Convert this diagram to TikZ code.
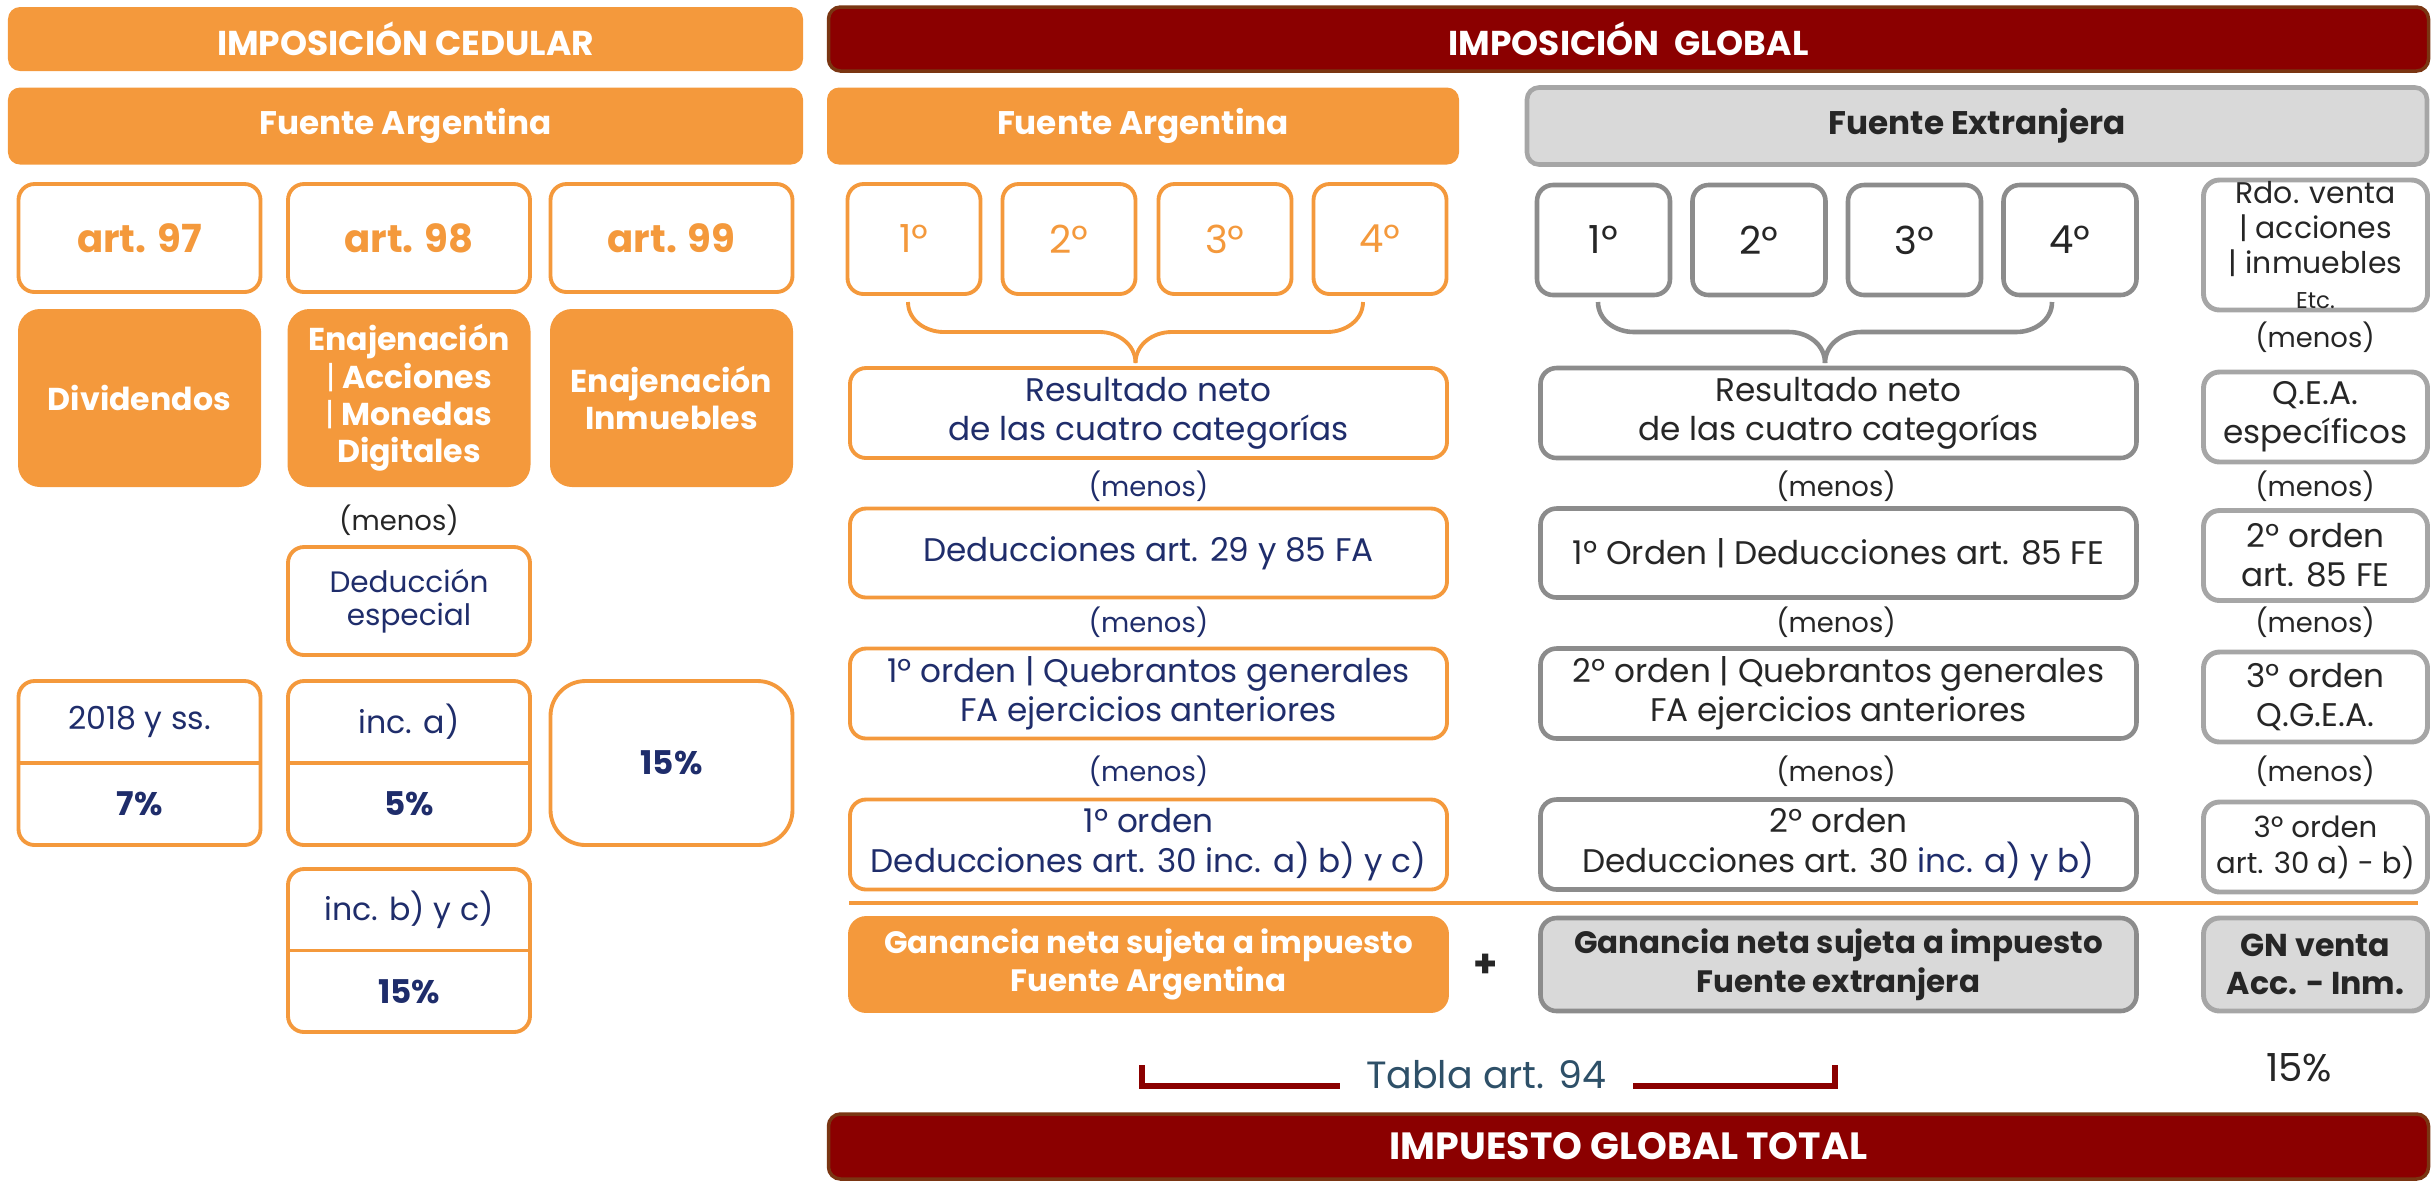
\documentclass[tikz,border=0pt]{standalone}
\usepackage{fontspec}
\setmainfont{Poppins}
\usepackage{tikz}
\usetikzlibrary{calc,positioning}
\definecolor{naranja}{HTML}{F4993C}
\definecolor{rojo}{HTML}{8B0000}
\definecolor{rojoborde}{HTML}{7A3512}
\definecolor{azul}{HTML}{1F2D6B}
\definecolor{grisfondo}{HTML}{D9D9D9}
\definecolor{grisborde}{HTML}{8C8C8C}
\definecolor{grisclaro}{HTML}{A6A6A6}
\definecolor{negro}{HTML}{262626}
\definecolor{pizarra}{HTML}{2E5068}
\newcommand{\fs}[2]{\fontsize{#1}{#2}\selectfont}
\tikzset{%
	barra/.style   = {rounded corners=0.12cm, minimum height=0.64cm, text=white, font=\fs{9.8}{11}\bfseries, inner sep=0pt},
	fuente/.style  = {rounded corners=0.12cm, minimum height=0.77cm, font=\fs{9.3}{11}\bfseries, inner sep=0pt},
	artbox/.style  = {draw=naranja, line width=1.1pt, fill=white, rounded corners=0.16cm, minimum width=2.42cm, minimum height=1.08cm, text=naranja, font=\fs{11}{13}\bfseries},
	catbox/.style  = {fill=naranja, rounded corners=0.22cm, minimum width=2.43cm, minimum height=1.78cm, text=white, font=\fs{9}{10.6}\bfseries, align=center},
	obox/.style    = {draw=naranja, line width=1.1pt, fill=white, rounded corners=0.16cm, align=center, text=azul, font=\fs{9.3}{11.2}, inner sep=0pt},
	gbox/.style    = {draw=grisborde, line width=1.3pt, fill=white, rounded corners=0.16cm, align=center, text=negro, font=\fs{9.3}{11.2}, inner sep=0pt},
	rbox/.style    = {draw=grisclaro, line width=1.4pt, fill=white, rounded corners=0.16cm, align=center, text=negro, font=\fs{9.3}{11.2}, minimum width=2.24cm, inner sep=0pt},
	menos/.style   = {font=\fs{7.8}{9}, text=negro},
	llave/.style   = {line width=1.1pt},
}
\begin{document}
\begin{tikzpicture}
	\useasboundingbox (0,0) rectangle (24.33,-11.82);
	% imposicion cedular
	\node[barra, fill=naranja, minimum width=7.95cm] (ced) at (4.055,-0.39) {IMPOSICIÓN CEDULAR};
	\node[fuente, fill=naranja, text=white, minimum width=7.95cm] (faL) at (4.055,-1.26) {Fuente Argentina};
	\node[artbox] (a97) at (1.395,-2.38) {art. 97};
	\node[artbox] (a98) at (4.09,-2.38) {art. 98};
	\node[artbox] (a99) at (6.715,-2.38) {art. 99};
	\node[catbox] (div) at (1.395,-3.98) {Dividendos};
	\node[catbox] (ena) at (4.09,-3.98) {Enajenación\\{\mdseries|} Acciones\\{\mdseries|} Monedas\\Digitales};
	\node[catbox] (inm) at (6.715,-3.98) {Enajenación\\Inmuebles};
	\node[menos] (m0) at (3.99,-5.20) {(menos)};
	\node[obox, minimum width=2.42cm, minimum height=1.08cm, font=\fs{8.4}{9.4}] (desp) at (4.09,-6.01) {Deducción\\especial};
	\node[obox, minimum width=2.42cm, minimum height=1.64cm] (t97) at (1.395,-7.63) {};
	\draw[naranja, line width=1.1pt] (t97.west) -- (t97.east);
	\node[text=azul, font=\fs{9}{11}] (t97a) at ($(t97.center)+(0,0.41)$) {2018 y ss.};
	\node[text=azul, font=\fs{9.3}{11}\bfseries] (t97b) at ($(t97.center)+(0,-0.41)$) {7\%};
	\node[obox, minimum width=2.42cm, minimum height=1.64cm] (t98) at (4.09,-7.63) {};
	\draw[naranja, line width=1.1pt] (t98.west) -- (t98.east);
	\node[text=azul, font=\fs{9}{11}] (t98a) at ($(t98.center)+(0,0.41)$) {inc. a)};
	\node[text=azul, font=\fs{9.3}{11}\bfseries] (t98b) at ($(t98.center)+(0,-0.41)$) {5\%};
	\node[obox, rounded corners=0.35cm, minimum width=2.42cm, minimum height=1.64cm, font=\fs{9.3}{11}\bfseries] (t99) at (6.715,-7.63) {15\%};
	\node[obox, minimum width=2.42cm, minimum height=1.63cm] (t98c) at (4.09,-9.505) {};
	\draw[naranja, line width=1.1pt] (t98c.west) -- (t98c.east);
	\node[text=azul, font=\fs{9}{11}] (t98ca) at ($(t98c.center)+(0,0.41)$) {inc. b) y c)};
	\node[text=azul, font=\fs{9.3}{11}\bfseries] (t98cb) at ($(t98c.center)+(0,-0.41)$) {15\%};
	% imposicion global
	\node[barra, fill=rojo, draw=rojoborde, line width=1pt, minimum width=16.0cm] (glob) at (16.285,-0.39) {IMPOSICIÓN\ \ GLOBAL};
	\node[fuente, fill=naranja, text=white, minimum width=6.32cm] (faR) at (11.43,-1.26) {Fuente Argentina};
	\node[fuente, fill=grisfondo, draw=grisclaro, line width=1.3pt, text=negro, minimum width=9.0cm] (fe) at (19.77,-1.26) {Fuente Extranjera};
	\node[obox, minimum width=1.33cm, minimum height=1.10cm, text=naranja, font=\fs{11}{13}] (o1) at (9.14,-2.39) {1º};
	\node[obox, minimum width=1.33cm, minimum height=1.10cm, text=naranja, font=\fs{11}{13}] (o2) at (10.69,-2.39) {2º};
	\node[obox, minimum width=1.33cm, minimum height=1.10cm, text=naranja, font=\fs{11}{13}] (o3) at (12.25,-2.39) {3º};
	\node[obox, minimum width=1.33cm, minimum height=1.10cm, text=naranja, font=\fs{11}{13}] (o4) at (13.80,-2.39) {4º};
	\node[gbox, minimum width=1.33cm, minimum height=1.10cm, font=\fs{11}{13}] (g1) at (16.035,-2.40) {1º};
	\node[gbox, minimum width=1.33cm, minimum height=1.10cm, font=\fs{11}{13}] (g2) at (17.59,-2.40) {2º};
	\node[gbox, minimum width=1.33cm, minimum height=1.10cm, font=\fs{11}{13}] (g3) at (19.145,-2.40) {3º};
	\node[gbox, minimum width=1.33cm, minimum height=1.10cm, font=\fs{11}{13}] (g4) at (20.70,-2.40) {4º};
	\node[rbox, minimum height=1.30cm, font=\fs{8.5}{10}] (rdo) at (23.155,-2.45) {Rdo. venta\\| acciones\\| inmuebles\\{\fs{6.5}{7}Etc.}};
	\node[menos] (mr0) at (23.15,-3.37) {(menos)};
	% llaves
	\coordinate (bo1) at (9.08,-3.02);
	\coordinate (bo2) at (13.63,-3.02);
	\coordinate (bot) at (11.355,-3.63);
	\draw[llave, naranja] (bo1) to[out=-90,in=180] ++(0.36,-0.30) -- ($(bot)+(-0.36,0.31)$) to[out=0,in=90] (bot);
	\draw[llave, naranja] (bo2) to[out=-90,in=0] ++(-0.36,-0.30) -- ($(bot)+(0.36,0.31)$) to[out=180,in=90] (bot);
	\coordinate (bg1) at (15.98,-3.02);
	\coordinate (bg2) at (20.52,-3.02);
	\coordinate (bgt) at (18.25,-3.63);
	\draw[llave, grisborde, line width=1.3pt] (bg1) to[out=-90,in=180] ++(0.36,-0.30) -- ($(bgt)+(-0.36,0.31)$) to[out=0,in=90] (bgt);
	\draw[llave, grisborde, line width=1.3pt] (bg2) to[out=-90,in=0] ++(-0.36,-0.30) -- ($(bgt)+(0.36,0.31)$) to[out=180,in=90] (bgt);
	% filas
	\node[obox, minimum width=5.97cm, minimum height=0.90cm] (resA) at (11.485,-4.13) {Resultado neto\\de las cuatro categorías};
	\node[gbox, minimum width=5.96cm, minimum height=0.90cm] (resE) at (18.385,-4.13) {Resultado neto\\de las cuatro categorías};
	\node[rbox, minimum height=0.90cm] (qea) at (23.155,-4.17) {Q.E.A.\\específicos};
	\node[menos, text=azul] (ma1) at (11.485,-4.86) {(menos)};
	\node[menos] (me1) at (18.36,-4.86) {(menos)};
	\node[menos] (mr1) at (23.15,-4.86) {(menos)};
	\node[obox, minimum width=5.97cm, minimum height=0.89cm] (dedA) at (11.485,-5.53) {Deducciones art. 29 y 85 FA};
	\node[gbox, minimum width=5.96cm, minimum height=0.89cm] (dedE) at (18.385,-5.53) {1º Orden | Deducciones art. 85 FE};
	\node[rbox, minimum height=0.90cm] (r85) at (23.155,-5.555) {2º orden\\art. 85 FE};
	\node[menos, text=azul] (ma2) at (11.485,-6.22) {(menos)};
	\node[menos] (me2) at (18.36,-6.22) {(menos)};
	\node[menos] (mr2) at (23.15,-6.22) {(menos)};
	\node[obox, minimum width=5.97cm, minimum height=0.90cm] (queA) at (11.485,-6.935) {1º orden | Quebrantos generales\\FA ejercicios anteriores};
	\node[gbox, minimum width=5.96cm, minimum height=0.90cm] (queE) at (18.385,-6.935) {2º orden | Quebrantos generales\\FA ejercicios anteriores};
	\node[rbox, minimum height=0.90cm] (qgea) at (23.155,-6.97) {3º orden\\Q.G.E.A.};
	\node[menos, text=azul] (ma3) at (11.485,-7.71) {(menos)};
	\node[menos] (me3) at (18.36,-7.71) {(menos)};
	\node[menos] (mr3) at (23.15,-7.71) {(menos)};
	\node[obox, minimum width=5.97cm, minimum height=0.90cm] (d30A) at (11.485,-8.445) {1º orden\\Deducciones art. 30 inc. a) b) y c)};
	\node[gbox, minimum width=5.96cm, minimum height=0.90cm] (d30E) at (18.385,-8.445) {2º orden\\Deducciones art. 30 {\color{azul}inc. a) y b)}};
	\node[rbox, minimum height=0.90cm, font=\fs{8.3}{10.2}] (r30) at (23.155,-8.47) {3º orden\\art. 30 a) - b)};
	\coordinate (s1) at (8.49,-9.03);
	\coordinate (s2) at (24.18,-9.03);
	\draw[naranja, line width=1.2pt] (s1) -- (s2);
	% ganancia neta
	\node[obox, fill=naranja, text=white, minimum width=5.97cm, minimum height=0.93cm, font=\fs{8.8}{11}\bfseries] (gnA) at (11.485,-9.645) {Ganancia neta sujeta a impuesto\\Fuente Argentina};
	\node[font=\fs{11}{13}\bfseries, text=negro] (mas) at (14.86,-9.66) {+};
	\node[gbox, fill=grisfondo, minimum width=5.96cm, minimum height=0.93cm, font=\fs{8.8}{11}\bfseries] (gnE) at (18.385,-9.645) {Ganancia neta sujeta a impuesto\\Fuente extranjera};
	\node[rbox, fill=grisfondo, minimum height=0.93cm, font=\fs{9}{11}\bfseries] (gnv) at (23.155,-9.645) {GN venta\\Acc. - Inm.};
	\node[text=pizarra, font=\fs{10.8}{13}] (tabla) at (14.86,-10.75) {Tabla art. 94};
	\coordinate (tl1) at (11.42,-10.65);
	\coordinate (tl2) at (13.40,-10.86);
	\coordinate (tr1) at (16.33,-10.86);
	\coordinate (tr2) at (18.35,-10.65);
	\draw[rojo, line width=1.9pt] (tl1) |- (tl2);
	\draw[rojo, line width=1.9pt] (tr1) -| (tr2);
	\node[text=negro, font=\fs{11}{13}] (tasa) at (22.99,-10.68) {15\%};
	\node[barra, fill=rojo, draw=rojoborde, line width=1pt, minimum width=16.0cm, minimum height=0.65cm, font=\fs{10.8}{13}\bfseries] (total) at (16.285,-11.465) {IMPUESTO GLOBAL TOTAL};
\end{tikzpicture}
\end{document}
